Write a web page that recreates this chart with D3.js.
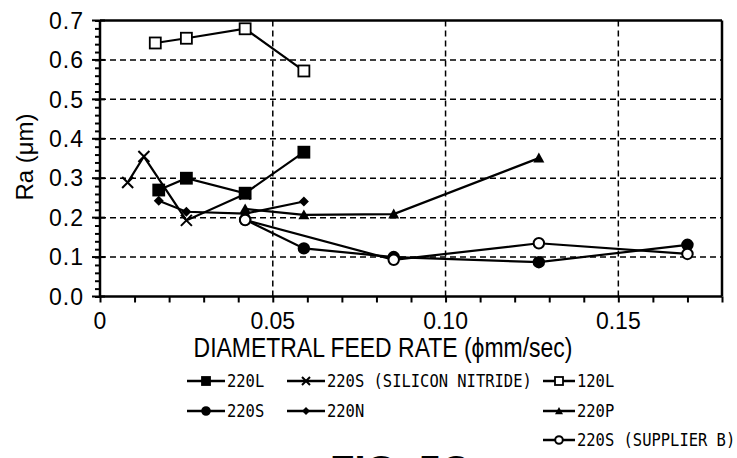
<!DOCTYPE html>
<html>
<head>
<meta charset="utf-8">
<script src="https://cdn.jsdelivr.net/npm/d3@7"></script>
<style>
  html, body { margin: 0; padding: 0; background: #fff; overflow: hidden; }
  svg { display: block; }
</style>
</head>
<body>
<div id="chart"></div>
<script>
// values
const xTickValues = [0, 0.05, 0.10, 0.15];
const xTickLabels = ["0", "0.05", "0.10", "0.15"];
const yTickValues = [0, 0.1, 0.2, 0.3, 0.4, 0.5, 0.6, 0.7];
const yTickLabels = ["0.0", "0.1", "0.2", "0.3", "0.4", "0.5", "0.6", "0.7"];

const feed220L = [0.017, 0.025, 0.042, 0.059];
const ra220L   = [0.270, 0.300, 0.262, 0.366];

const feed220SN = [0.008, 0.0127, 0.025, 0.042];
const ra220SN   = [0.289, 0.355, 0.193, 0.260];

const feed120L = [0.016, 0.025, 0.042, 0.059];
const ra120L   = [0.643, 0.655, 0.679, 0.572];

const feed220S = [0.042, 0.059, 0.085, 0.127, 0.170];
const ra220S   = [0.195, 0.122, 0.100, 0.087, 0.131];

const feed220N = [0.017, 0.025, 0.042, 0.059];
const ra220N   = [0.243, 0.215, 0.210, 0.241];

const feed220P = [0.042, 0.059, 0.085, 0.127];
const ra220P   = [0.222, 0.207, 0.209, 0.351];

const feed220SB = [0.042, 0.085, 0.127, 0.170];
const ra220SB   = [0.194, 0.093, 0.135, 0.108];

const seriesNames = ["220L", "220S (SILICON NITRIDE)", "120L", "220S", "220N", "220P", "220S (SUPPLIER B)"];
const seriesMarkers = ["squareFill", "cross", "squareOpen", "circleFill", "diamond", "triangle", "circleOpen"];

const zip = (xs, ys) => xs.map((x, i) => ({ x: x, y: ys[i] }));
const seriesData = [
    zip(feed220L, ra220L),
    zip(feed220SN, ra220SN),
    zip(feed120L, ra120L),
    zip(feed220S, ra220S),
    zip(feed220N, ra220N),
    zip(feed220P, ra220P),
    zip(feed220SB, ra220SB)
];

const W = 737, H = 458;
const plot = { left: 100, right: 722, top: 20.5, bottom: 296.5 };

const x = d3.scaleLinear().domain([0, 0.18]).range([plot.left, plot.right]);
const y = d3.scaleLinear().domain([0, 0.7]).range([plot.bottom, plot.top]);

const svg = d3.select("#chart").append("svg")
    .attr("width", W)
    .attr("height", H)
    .style("font-family", "'Liberation Sans', Arial, sans-serif");

// dashed grid
svg.append("g")
    .selectAll("line")
    .data(yTickValues.filter(v => v > 0 && v < 0.7))
    .join("line")
    .attr("x1", plot.left).attr("x2", plot.right)
    .attr("y1", d => y(d)).attr("y2", d => y(d))
    .attr("stroke", "#000").attr("stroke-width", 1.5)
    .attr("stroke-dasharray", "6,4");

svg.append("g")
    .selectAll("line")
    .data(xTickValues.filter(v => v > 0))
    .join("line")
    .attr("x1", d => x(d)).attr("x2", d => x(d))
    .attr("y1", plot.top).attr("y2", plot.bottom)
    .attr("stroke", "#000").attr("stroke-width", 1.5)
    .attr("stroke-dasharray", "6,4");

// frame top / right
svg.append("line")
    .attr("x1", plot.left).attr("x2", plot.right)
    .attr("y1", plot.top).attr("y2", plot.top)
    .attr("stroke", "#000").attr("stroke-width", 2.5);
svg.append("line")
    .attr("x1", plot.right).attr("x2", plot.right)
    .attr("y1", plot.top).attr("y2", plot.bottom)
    .attr("stroke", "#000").attr("stroke-width", 2.5);

// x axis: minor ticks every 0.01
const xAxis = svg.append("g")
    .attr("transform", `translate(0,${plot.bottom})`)
    .call(d3.axisBottom(x).tickValues(d3.range(0, 0.1801, 0.01)).tickSize(6).tickFormat(""));
xAxis.select(".domain").attr("stroke-width", 2.5).attr("d", `M${plot.left},0H${plot.right}`);
xAxis.selectAll(".tick line").attr("stroke-width", 2);

svg.append("g")
    .selectAll("text")
    .data(xTickValues)
    .join("text")
    .attr("x", d => x(d))
    .attr("y", 329)
    .attr("text-anchor", "middle")
    .attr("font-size", 23)
    .text((d, i) => xTickLabels[i]);

// y axis: minor ticks every 0.02
const yAxis = svg.append("g")
    .attr("transform", `translate(${plot.left},0)`)
    .call(d3.axisLeft(y).tickValues(d3.range(0, 0.7001, 0.02)).tickSize(5).tickFormat(""));
yAxis.select(".domain").attr("stroke-width", 2.5).attr("d", `M0,${plot.top}V${plot.bottom}`);
yAxis.selectAll(".tick line").attr("stroke-width", 2);

svg.append("g")
    .selectAll("line")
    .data(yTickValues)
    .join("line")
    .attr("x1", plot.left - 8).attr("x2", plot.left + 5)
    .attr("y1", d => y(d)).attr("y2", d => y(d))
    .attr("stroke", "#000").attr("stroke-width", 2);

svg.append("g")
    .selectAll("text")
    .data(yTickValues)
    .join("text")
    .attr("x", 84)
    .attr("y", d => y(d))
    .attr("dy", "0.36em")
    .attr("text-anchor", "end")
    .attr("font-size", 23)
    .attr("letter-spacing", 1)
    .text((d, i) => yTickLabels[i]);

// axis titles
svg.append("text")
    .attr("transform", "translate(33,157) rotate(-90)")
    .attr("text-anchor", "middle")
    .attr("font-size", 24)
    .text("Ra (\u03bcm)");

svg.append("text")
    .attr("transform", "translate(383,357) scale(0.82,1)")
    .attr("text-anchor", "middle")
    .attr("font-size", 28)
    .text("DIAMETRAL FEED RATE (\u03d5mm/sec)");

// markers
function drawMarker(sel, type, s) {
    const h = s / 2;
    if (type === "squareFill" || type === "squareOpen") {
        sel.append("rect")
            .attr("x", -h).attr("y", -h).attr("width", s).attr("height", s)
            .attr("fill", type === "squareFill" ? "#000" : "#fff")
            .attr("stroke", "#000").attr("stroke-width", 1.8);
    } else if (type === "circleFill" || type === "circleOpen") {
        sel.append("circle")
            .attr("r", h * 0.95)
            .attr("fill", type === "circleFill" ? "#000" : "#fff")
            .attr("stroke", "#000").attr("stroke-width", 2);
    } else if (type === "diamond") {
        sel.append("path")
            .attr("d", `M0,${-h}L${h},0L0,${h}L${-h},0Z`)
            .attr("fill", "#000");
    } else if (type === "triangle") {
        sel.append("path")
            .attr("d", `M0,${-h}L${h},${h * 0.8}L${-h},${h * 0.8}Z`)
            .attr("fill", "#000");
    } else if (type === "cross") {
        sel.append("path")
            .attr("d", `M${-h},${-h}L${h},${h}M${-h},${h}L${h},${-h}`)
            .attr("stroke", "#000").attr("stroke-width", 2).attr("fill", "none");
    }
}

const line = d3.line().x(d => x(d.x)).y(d => y(d.y));

const seriesG = svg.append("g")
    .selectAll("g")
    .data(seriesData)
    .join("g");

seriesG.append("path")
    .attr("d", d => line(d))
    .attr("fill", "none")
    .attr("stroke", "#000")
    .attr("stroke-width", 2.2);

seriesG.each(function(d, i) {
    const g = d3.select(this);
    const size = seriesMarkers[i] === "diamond" ? 10 : 11;
    d.forEach(p => {
        const m = g.append("g").attr("transform", `translate(${x(p.x)},${y(p.y)})`);
        drawMarker(m, seriesMarkers[i], size);
    });
});

// legend
const legendCols = [187, 287, 543];
const legendRows = [381, 411, 440];
const legendPos = [[0, 0], [1, 0], [2, 0], [0, 1], [1, 1], [2, 1], [2, 2]];

const legend = svg.append("g")
    .selectAll("g")
    .data(seriesNames)
    .join("g")
    .attr("transform", (d, i) => `translate(${legendCols[legendPos[i][0]]},${legendRows[legendPos[i][1]]})`);

legend.append("line")
    .attr("x1", 0).attr("x2", (d, i) => legendPos[i][0] === 2 ? 32 : 38)
    .attr("y1", 0).attr("y2", 0)
    .attr("stroke", "#000").attr("stroke-width", 2.5);

legend.each(function(d, i) {
    const m = d3.select(this).append("g")
        .attr("transform", `translate(${legendPos[i][0] === 2 ? 16 : 19},0)`);
    drawMarker(m, seriesMarkers[i], 8);
});

legend.append("text")
    .attr("transform", (d, i) => `translate(${legendPos[i][0] === 2 ? 34 : 40},0) scale(0.86,1)`)
    .attr("dy", "0.36em")
    .attr("font-family", "'DejaVu Sans Mono', 'Liberation Mono', monospace")
    .attr("font-size", 18)
    .text(d => d);

// figure caption, cut off at the bottom edge as in the source scan
svg.append("text")
    .attr("x", 400)
    .attr("y", 484)
    .attr("text-anchor", "middle")
    .attr("font-size", 40)
    .attr("font-weight", "bold")
    .text("FIG. 5C");
</script>
</body>
</html>
